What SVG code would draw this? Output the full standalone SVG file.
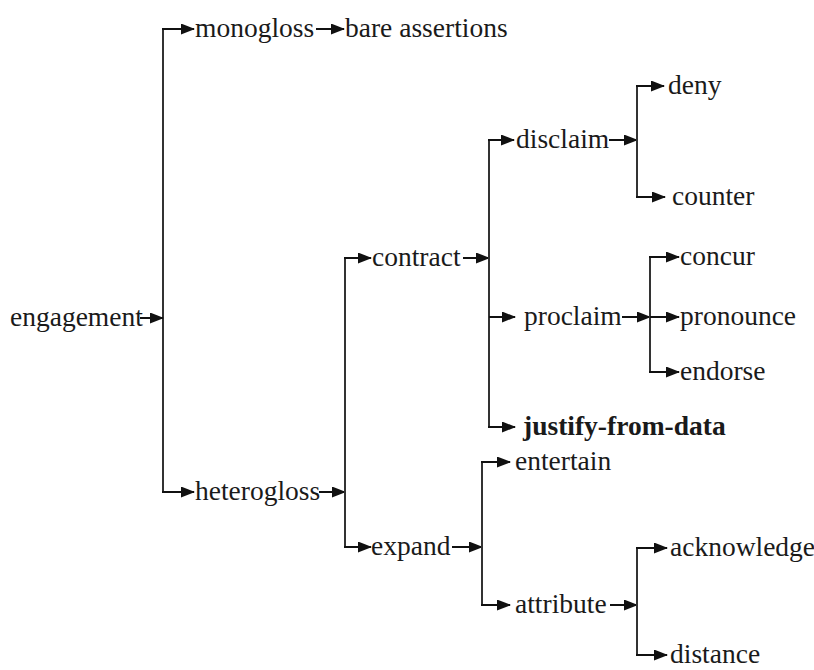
<svg xmlns="http://www.w3.org/2000/svg" width="814" height="670" viewBox="0 0 814 670">
<defs>
<marker id="ah" markerUnits="userSpaceOnUse" markerWidth="14" markerHeight="11" refX="13" refY="5.5" orient="auto">
<path d="M0,0 L14,5.5 L0,11 Z" fill="#111"/>
</marker>
<style>
text{font-family:'Liberation Serif','Times New Roman',Times,serif;font-size:27.5px;fill:#1a1a1a}
.b{font-weight:bold}
.c{stroke:#333;stroke-width:2;fill:none}
.a{stroke:#111;stroke-width:2;fill:none;marker-end:url(#ah)}
</style>
</defs>
<rect width="814" height="670" fill="#fff"/>
<g id="connectors">
<path class="c" d="M163,28 V493"/>
<path class="a" d="M162,29 H194"/>
<path class="a" d="M162,492 H194"/>
<path class="a" d="M140,318 H163"/>
<path class="a" d="M316,29 H344"/>
<path class="a" d="M319,492 H345"/>
<path class="c" d="M345,257 V548"/>
<path class="a" d="M344,258 H371"/>
<path class="a" d="M344,547 H371"/>
<path class="a" d="M463,258 H489"/>
<path class="c" d="M489,139 V428"/>
<path class="a" d="M488,140 H514"/>
<path class="a" d="M489,317 H515"/>
<path class="a" d="M488,427 H515"/>
<path class="a" d="M609,140 H637"/>
<path class="c" d="M637,85 V198"/>
<path class="a" d="M636,86 H664"/>
<path class="a" d="M636,197 H665"/>
<path class="a" d="M622,317 H650"/>
<path class="c" d="M650,256 V373"/>
<path class="a" d="M649,257 H679"/>
<path class="a" d="M650,317 H679"/>
<path class="a" d="M649,372 H679"/>
<path class="a" d="M452,547 H482"/>
<path class="c" d="M482,461 V606"/>
<path class="a" d="M481,462 H510"/>
<path class="a" d="M481,605 H510"/>
<path class="a" d="M610,605 H637"/>
<path class="c" d="M637,547 V656"/>
<path class="a" d="M636,548 H667"/>
<path class="a" d="M636,655 H667"/>
</g>
<g font-family="Liberation Serif, serif" font-size="27.5">
<g id="engagement"><text x="10" y="326">engagement</text></g>
<g id="monogloss"><text x="195" y="37">monogloss</text></g>
<g id="bare-assertions"><text x="345" y="37">bare assertions</text></g>
<g id="heterogloss"><text x="195" y="500">heterogloss</text></g>
<g id="contract"><text x="372" y="266">contract</text></g>
<g id="expand"><text x="371" y="555">expand</text></g>
<g id="disclaim"><text x="516" y="148">disclaim</text></g>
<g id="deny"><text x="668" y="94">deny</text></g>
<g id="counter"><text x="672" y="205">counter</text></g>
<g id="proclaim"><text x="524" y="325">proclaim</text></g>
<g id="concur"><text x="680" y="265">concur</text></g>
<g id="pronounce"><text x="680" y="325">pronounce</text></g>
<g id="endorse"><text x="680" y="380">endorse</text></g>
<g id="justify-from-data"><text class="b" x="523" y="435">justify-from-data</text></g>
<g id="entertain"><text x="515" y="470">entertain</text></g>
<g id="attribute"><text x="515" y="613">attribute</text></g>
<g id="acknowledge"><text x="670" y="556">acknowledge</text></g>
<g id="distance"><text x="670" y="663">distance</text></g>
</g>
</svg>
